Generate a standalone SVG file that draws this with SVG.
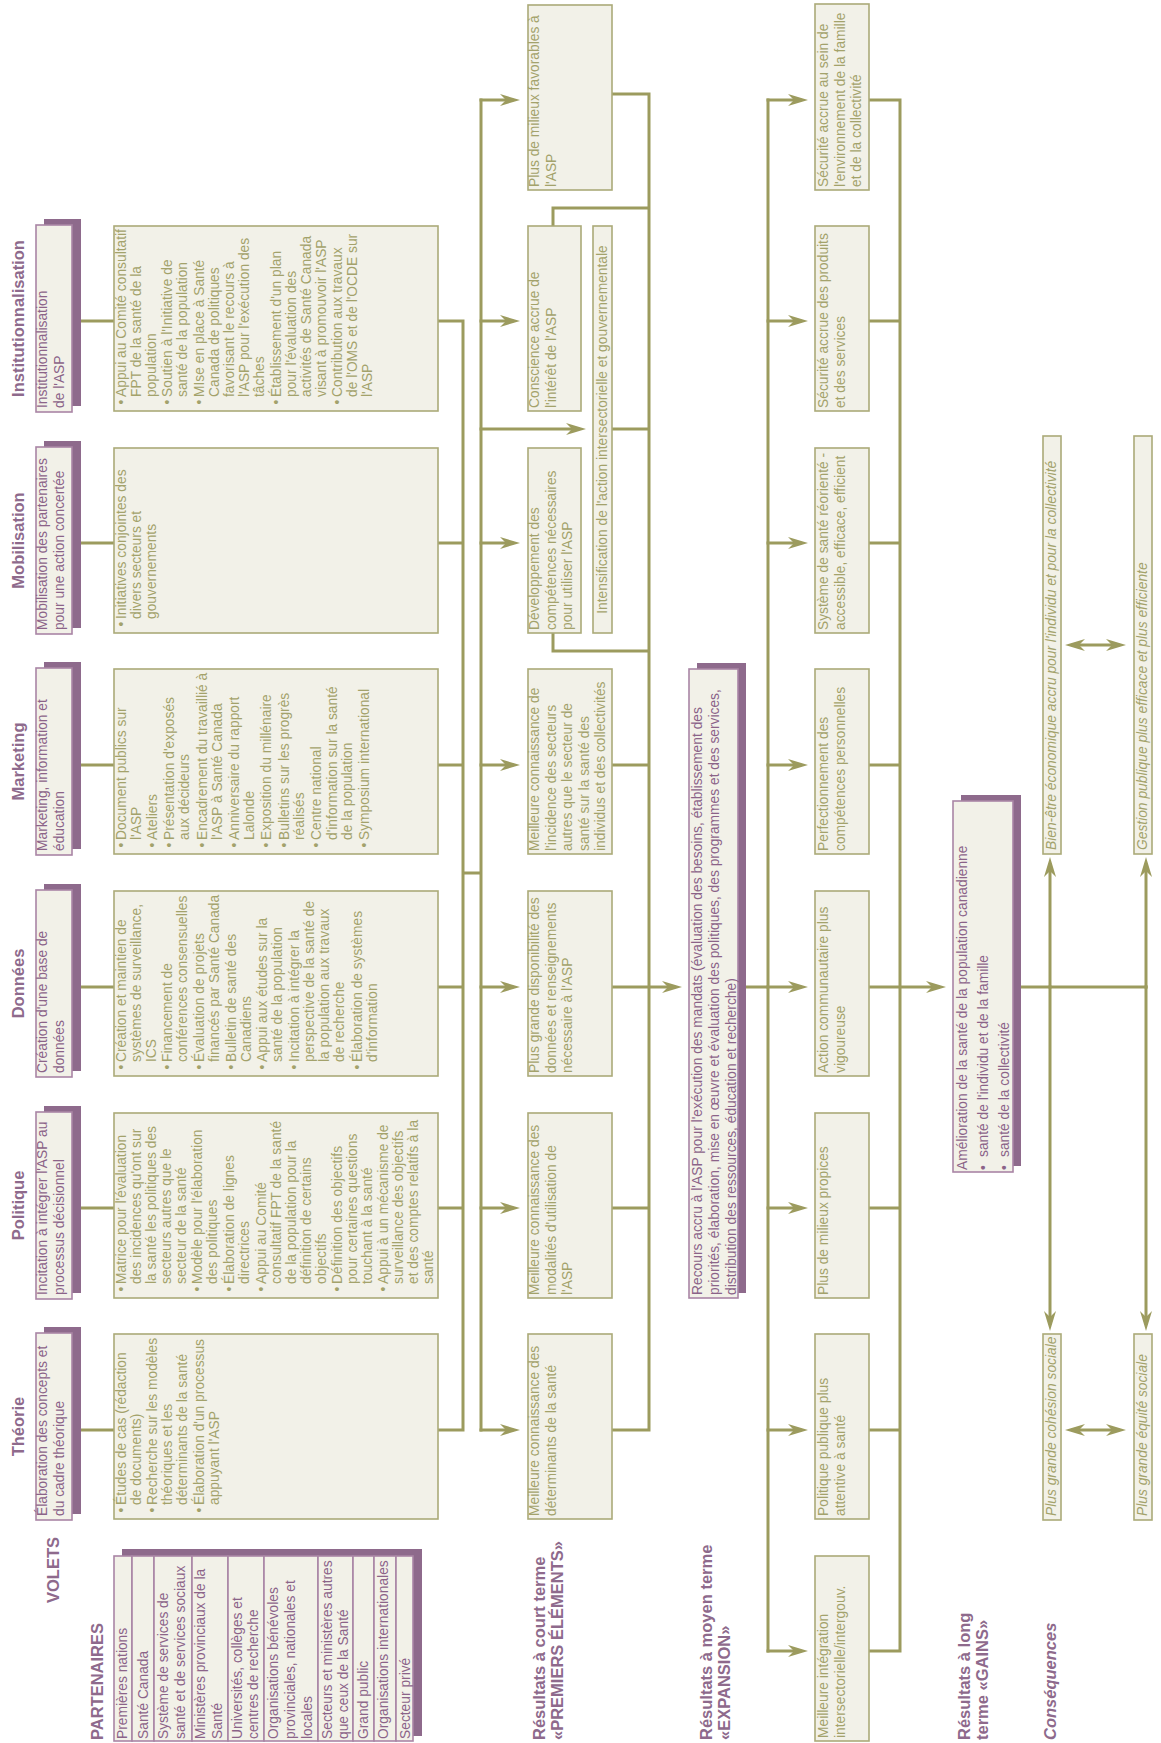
<svg xmlns="http://www.w3.org/2000/svg" width="1161" height="1743" viewBox="0 0 1161 1743">
<style>
text{font-family:"Liberation Sans",Arial,sans-serif;font-size:13.8px}
.ot{fill:#A3A26B}
.pt{fill:#8B6388}
.ttl{fill:#8E6A8C;font-weight:bold;font-size:16.5px}
.it{font-style:italic}
.ob{fill:#F2F1E8;stroke:#ABAA78;stroke-width:1.6}
.pb{fill:#F2F1E8;stroke:#A985A5;stroke-width:1.6}
.sh{fill:#8E6A8C}
.ln{fill:none;stroke:#9C9B5E;stroke-width:3;stroke-linecap:square}
.ar{marker-end:url(#ah)}
.da{marker-end:url(#ah);marker-start:url(#ah)}
</style>
<defs>
<marker id="ah" viewBox="0 0 20 12" refX="12" refY="6" markerWidth="20" markerHeight="12" markerUnits="userSpaceOnUse" orient="auto-start-reverse">
<path d="M0,0 L20,6 L0,12 L6,6 Z" fill="#9C9B5E"/>
</marker>
</defs>
<rect width="1161" height="1743" fill="#FFFFFF"/>

<g id="connectors">
<path class="ln" d="M72,321 H114 M72,543 H114 M72,765 H114 M72,987 H114 M72,1208 H114 M72,1430 H114"/>
<path class="ln" d="M438,321 H463 M438,543 H463 M438,765 H463 M438,987 H463 M438,1208 H463 M438,1430 H463 M463,321 V1430 M463,873 H481 M481,100 V1430"/>
<path class="ln ar" d="M481,100 H512"/>
<path class="ln ar" d="M481,321 H512"/>
<path class="ln ar" d="M481,429 H578"/>
<path class="ln ar" d="M481,543 H512"/>
<path class="ln ar" d="M481,765 H512"/>
<path class="ln ar" d="M481,987 H512"/>
<path class="ln ar" d="M481,1208 H512"/>
<path class="ln ar" d="M481,1430 H512"/>
<path class="ln" d="M612,94 H649 M553,226 V208 H649 M612,429 H649 M553,633 V651 H649 M612,765 H649 M612,1208 H649 M612,1430 H649 M649,94 V1430"/>
<path class="ln ar" d="M612,987 H674"/>
<path class="ln" d="M746,987 H768 M768,100 V1651"/>
<path class="ln ar" d="M768,100 H800"/>
<path class="ln ar" d="M768,321 H800"/>
<path class="ln ar" d="M768,543 H800"/>
<path class="ln ar" d="M768,765 H800"/>
<path class="ln ar" d="M768,987 H800"/>
<path class="ln ar" d="M768,1208 H800"/>
<path class="ln ar" d="M768,1430 H800"/>
<path class="ln ar" d="M768,1651 H800"/>
<path class="ln" d="M869,100 H900 M869,321 H900 M869,543 H900 M869,765 H900 M869,1208 H900 M869,1430 H900 M869,1651 H900 M900,100 V1651"/>
<path class="ln ar" d="M869,987 H938"/>
<path class="ln" d="M1021,987 H1146"/>
<path class="ln ar" d="M1050,987 V865"/>
<path class="ln ar" d="M1050,987 V1323"/>
<path class="ln ar" d="M1146,987 V865"/>
<path class="ln ar" d="M1146,987 V1323"/>
<path class="ln da" d="M1073,645 H1118"/>
<path class="ln da" d="M1073,1430 H1118"/>
</g>

<g id="headers">
<text class="ttl" transform="translate(0,1740) rotate(-90)"><tspan x="0" y="103">PARTENAIRES</tspan></text>
<text class="ttl" transform="translate(0,1603) rotate(-90)"><tspan x="0" y="59">VOLETS</tspan></text>
<text class="ttl" transform="translate(0,1740) rotate(-90)"><tspan x="0" y="545">Résultats à court terme</tspan><tspan x="0" y="563">«PREMIERS ÉLÉMENTS»</tspan></text>
<text class="ttl" transform="translate(0,1740) rotate(-90)"><tspan x="0" y="712">Résultats à moyen terme</tspan><tspan x="0" y="730">«EXPANSION»</tspan></text>
<text class="ttl" transform="translate(0,1740) rotate(-90)"><tspan x="0" y="970">Résultats à long</tspan><tspan x="0" y="988">terme «GAINS»</tspan></text>
<text class="ttl it" transform="translate(0,1740) rotate(-90)"><tspan x="0" y="1056">Conséquences</tspan></text>
</g>

<g id="partenaires">
<rect class="sh" x="122" y="1549" width="300" height="187"/>
<rect class="pb" x="114" y="1556" width="18" height="185"/>
<rect class="pb" x="132" y="1556" width="22" height="185"/>
<rect class="pb" x="154" y="1556" width="38" height="185"/>
<rect class="pb" x="192" y="1556" width="36" height="185"/>
<rect class="pb" x="228" y="1556" width="36" height="185"/>
<rect class="pb" x="264" y="1556" width="54" height="185"/>
<rect class="pb" x="318" y="1556" width="35" height="185"/>
<rect class="pb" x="353" y="1556" width="21" height="185"/>
<rect class="pb" x="374" y="1556" width="22" height="185"/>
<rect class="pb" x="396" y="1556" width="17" height="185"/>
<text class="pt" transform="translate(0,1739) rotate(-90)"><tspan x="0" y="127">Premières nations</tspan><tspan x="0" y="148">Santé Canada</tspan><tspan x="0" y="168">Système de services de</tspan><tspan x="0" y="185">santé et de services sociaux</tspan><tspan x="0" y="205">Ministères provinciaux de la</tspan><tspan x="0" y="222">Santé</tspan><tspan x="0" y="242">Universités, collèges et</tspan><tspan x="0" y="258">centres de recherche</tspan><tspan x="0" y="278">Organisations bénévoles</tspan><tspan x="0" y="295">provinciales, nationales et</tspan><tspan x="0" y="312">locales</tspan><tspan x="0" y="332">Secteurs et ministères autres</tspan><tspan x="0" y="348">que ceux de la Santé</tspan><tspan x="0" y="368">Grand public</tspan><tspan x="0" y="388">Organisations internationales</tspan><tspan x="0" y="410">Secteur privé</tspan></text>
</g>

<g id="volet-institutionnalisation">
<text class="ttl" text-anchor="middle" transform="translate(0,318.5) rotate(-90)"><tspan x="0" y="24">Institutionnalisation</tspan></text>
<rect class="sh" x="44" y="219" width="37" height="187"/>
<rect class="pb" x="36" y="225" width="36" height="187"/>
<text class="pt" transform="translate(0,408) rotate(-90)"><tspan x="0" y="47">Institutionnalisation</tspan><tspan x="0" y="64">de l'ASP</tspan></text>
<rect class="ob" x="114" y="226" width="324" height="185"/>
<text class="ot" transform="translate(0,404.5) rotate(-90)"><tspan x="0" y="126">•</tspan><tspan x="7.5" y="126">Appui au Comité consultatif</tspan><tspan x="7.5" y="141">FPT de la santé de la</tspan><tspan x="7.5" y="156">population</tspan><tspan x="0" y="172">•</tspan><tspan x="7.5" y="172">Soutien à l'Initiative de</tspan><tspan x="7.5" y="187">santé de la population</tspan><tspan x="0" y="204">•</tspan><tspan x="7.5" y="204">MIse en place à Santé</tspan><tspan x="7.5" y="219">Canada de politiques</tspan><tspan x="7.5" y="234">favorisant le recours à</tspan><tspan x="7.5" y="249">l'ASP pour l'exécution des</tspan><tspan x="7.5" y="264">tâches</tspan><tspan x="0" y="281">•</tspan><tspan x="7.5" y="281">Établissement d'un plan</tspan><tspan x="7.5" y="296">pour l'évaluation des</tspan><tspan x="7.5" y="311">activités de Santé Canada</tspan><tspan x="7.5" y="326">visant à promouvoir l'ASP</tspan><tspan x="0" y="342">•</tspan><tspan x="7.5" y="342">Contribution aux travaux</tspan><tspan x="7.5" y="357">de l'OMS et de l'OCDE sur</tspan><tspan x="7.5" y="372">l'ASP</tspan></text>
</g>

<g id="volet-mobilisation">
<text class="ttl" text-anchor="middle" transform="translate(0,540.5) rotate(-90)"><tspan x="0" y="24">Mobilisation</tspan></text>
<rect class="sh" x="44" y="441" width="37" height="187"/>
<rect class="pb" x="36" y="447" width="36" height="187"/>
<text class="pt" transform="translate(0,630) rotate(-90)"><tspan x="0" y="47">Mobilisation des partenaires</tspan><tspan x="0" y="64">pour une action concertée</tspan></text>
<rect class="ob" x="114" y="448" width="324" height="185"/>
<text class="ot" transform="translate(0,626.5) rotate(-90)"><tspan x="0" y="126">•</tspan><tspan x="7.5" y="126">Initiatives conjointes des</tspan><tspan x="7.5" y="141">divers secteurs et</tspan><tspan x="7.5" y="156">gouvernements</tspan></text>
</g>

<g id="volet-marketing">
<text class="ttl" text-anchor="middle" transform="translate(0,761.5) rotate(-90)"><tspan x="0" y="24">Marketing</tspan></text>
<rect class="sh" x="44" y="662" width="37" height="187"/>
<rect class="pb" x="36" y="668" width="36" height="187"/>
<text class="pt" transform="translate(0,851) rotate(-90)"><tspan x="0" y="47">Marketing, information et</tspan><tspan x="0" y="64">éducation</tspan></text>
<rect class="ob" x="114" y="669" width="324" height="185"/>
<text class="ot" transform="translate(0,847.5) rotate(-90)"><tspan x="0" y="126">•</tspan><tspan x="7.5" y="126">Document publics sur</tspan><tspan x="7.5" y="141">l'ASP</tspan><tspan x="0" y="157">•</tspan><tspan x="7.5" y="157">Ateliers</tspan><tspan x="0" y="174">•</tspan><tspan x="7.5" y="174">Présentation d'exposés</tspan><tspan x="7.5" y="189">aux décideurs</tspan><tspan x="0" y="207">•</tspan><tspan x="7.5" y="207">Encadrement du travaillié à</tspan><tspan x="7.5" y="222">l'ASP à Santé Canada</tspan><tspan x="0" y="239">•</tspan><tspan x="7.5" y="239">Anniversaire du rapport</tspan><tspan x="7.5" y="254">Lalonde</tspan><tspan x="0" y="271">•</tspan><tspan x="7.5" y="271">Exposition du millénaire</tspan><tspan x="0" y="289">•</tspan><tspan x="7.5" y="289">Bulletins sur les progrès</tspan><tspan x="7.5" y="304">réalisés</tspan><tspan x="0" y="321">•</tspan><tspan x="7.5" y="321">Centre national</tspan><tspan x="7.5" y="337">d'information sur la santé</tspan><tspan x="7.5" y="352">de la population</tspan><tspan x="0" y="369">•</tspan><tspan x="7.5" y="369">Symposium international</tspan></text>
</g>

<g id="volet-donnees">
<text class="ttl" text-anchor="middle" transform="translate(0,983.5) rotate(-90)"><tspan x="0" y="24">Données</tspan></text>
<rect class="sh" x="44" y="884" width="37" height="187"/>
<rect class="pb" x="36" y="890" width="36" height="187"/>
<text class="pt" transform="translate(0,1073) rotate(-90)"><tspan x="0" y="47">Création d'une base de</tspan><tspan x="0" y="64">données</tspan></text>
<rect class="ob" x="114" y="891" width="324" height="185"/>
<text class="ot" transform="translate(0,1069.5) rotate(-90)"><tspan x="0" y="126">•</tspan><tspan x="7.5" y="126">Création et maintien de</tspan><tspan x="7.5" y="141">systèmes de surveillance,</tspan><tspan x="7.5" y="156">ICS</tspan><tspan x="0" y="172">•</tspan><tspan x="7.5" y="172">Financement de</tspan><tspan x="7.5" y="187">conférences consensuelles</tspan><tspan x="0" y="204">•</tspan><tspan x="7.5" y="204">Évaluation de projets</tspan><tspan x="7.5" y="219">financés par Santé Canada</tspan><tspan x="0" y="236">•</tspan><tspan x="7.5" y="236">Bulletin de santé des</tspan><tspan x="7.5" y="251">Canadiens</tspan><tspan x="0" y="267">•</tspan><tspan x="7.5" y="267">Appui aux études sur la</tspan><tspan x="7.5" y="282">santé de la population</tspan><tspan x="0" y="299">•</tspan><tspan x="7.5" y="299">Incitation à intégrer la</tspan><tspan x="7.5" y="314">perspective de la santé de</tspan><tspan x="7.5" y="329">la population aux travaux</tspan><tspan x="7.5" y="344">de recherche</tspan><tspan x="0" y="362">•</tspan><tspan x="7.5" y="362">Élaboration de systèmes</tspan><tspan x="7.5" y="377">d'information</tspan></text>
</g>

<g id="volet-politique">
<text class="ttl" text-anchor="middle" transform="translate(0,1205.5) rotate(-90)"><tspan x="0" y="24">Politique</tspan></text>
<rect class="sh" x="44" y="1106" width="37" height="187"/>
<rect class="pb" x="36" y="1112" width="36" height="187"/>
<text class="pt" transform="translate(0,1295) rotate(-90)"><tspan x="0" y="47">Incitation à intégrer l'ASP au</tspan><tspan x="0" y="64">processus décisionnel</tspan></text>
<rect class="ob" x="114" y="1113" width="324" height="185"/>
<text class="ot" transform="translate(0,1291.5) rotate(-90)"><tspan x="0" y="126">•</tspan><tspan x="7.5" y="126">Matrice pour l'évaluation</tspan><tspan x="7.5" y="141">des incidences qu'ont sur</tspan><tspan x="7.5" y="156">la santé les politiques des</tspan><tspan x="7.5" y="171">secteurs autres que le</tspan><tspan x="7.5" y="186">secteur de la santé</tspan><tspan x="0" y="202">•</tspan><tspan x="7.5" y="202">Modèle pour l'élaboration</tspan><tspan x="7.5" y="217">des politiques</tspan><tspan x="0" y="234">•</tspan><tspan x="7.5" y="234">Élaboration de lignes</tspan><tspan x="7.5" y="249">directrices</tspan><tspan x="0" y="266">•</tspan><tspan x="7.5" y="266">Appui au Comité</tspan><tspan x="7.5" y="281">consultatif FPT de la santé</tspan><tspan x="7.5" y="296">de la population pour la</tspan><tspan x="7.5" y="311">définition de certains</tspan><tspan x="7.5" y="326">objectifs</tspan><tspan x="0" y="342">•</tspan><tspan x="7.5" y="342">Définition des objectifs</tspan><tspan x="7.5" y="357">pour certaines questions</tspan><tspan x="7.5" y="372">touchant à la santé</tspan><tspan x="0" y="388">•</tspan><tspan x="7.5" y="388">Appui à un mécanisme de</tspan><tspan x="7.5" y="403">surveillance des objectifs</tspan><tspan x="7.5" y="418">et des comptes relatifs à la</tspan><tspan x="7.5" y="433">santé</tspan></text>
</g>

<g id="volet-theorie">
<text class="ttl" text-anchor="middle" transform="translate(0,1426.5) rotate(-90)"><tspan x="0" y="24">Théorie</tspan></text>
<rect class="sh" x="44" y="1327" width="37" height="187"/>
<rect class="pb" x="36" y="1333" width="36" height="187"/>
<text class="pt" transform="translate(0,1516) rotate(-90)"><tspan x="0" y="47">Élaboration des concepts et</tspan><tspan x="0" y="64">du cadre théorique</tspan></text>
<rect class="ob" x="114" y="1334" width="324" height="185"/>
<text class="ot" transform="translate(0,1512.5) rotate(-90)"><tspan x="0" y="126">•</tspan><tspan x="7.5" y="126">Études de cas (rédaction</tspan><tspan x="7.5" y="141">de documents)</tspan><tspan x="0" y="157">•</tspan><tspan x="7.5" y="157">Recherche sur les modèles</tspan><tspan x="7.5" y="172">théoriques et les</tspan><tspan x="7.5" y="187">déterminants de la santé</tspan><tspan x="0" y="204">•</tspan><tspan x="7.5" y="204">Élaboration d'un processus</tspan><tspan x="7.5" y="219">appuyant l'ASP</tspan></text>
</g>

<g id="ct-milieux-favorables">
<rect class="ob" x="528" y="5" width="84" height="185"/>
<text class="ot" transform="translate(0,187) rotate(-90)"><tspan x="0" y="539">Plus de milieux favorables à</tspan><tspan x="0" y="556">l'ASP</tspan></text>
</g>
<g id="ct-conscience">
<rect class="ob" x="528" y="226" width="53" height="185"/>
<text class="ot" transform="translate(0,408) rotate(-90)"><tspan x="0" y="539">Conscience accrue de</tspan><tspan x="0" y="556">l'intérêt de l'ASP</tspan></text>
</g>
<g id="ct-intensification">
<rect class="ob" x="593" y="226" width="19" height="407"/>
<text class="ot" text-anchor="middle" transform="translate(0,429.5) rotate(-90)"><tspan x="0" y="606.5">Intensification de l'action intersectorielle et gouvernementale</tspan></text>
</g>
<g id="ct-competences">
<rect class="ob" x="528" y="448" width="53" height="185"/>
<text class="ot" transform="translate(0,630) rotate(-90)"><tspan x="0" y="539">Développement des</tspan><tspan x="0" y="556">compétences nécessaires</tspan><tspan x="0" y="572">pour utiliser l'ASP</tspan></text>
</g>
<g id="ct-incidence">
<rect class="ob" x="528" y="669" width="84" height="185"/>
<text class="ot" transform="translate(0,851) rotate(-90)"><tspan x="0" y="539">Meilleure connaissance de</tspan><tspan x="0" y="556">l'incidence des secteurs</tspan><tspan x="0" y="572">autres que le secteur de</tspan><tspan x="0" y="589">santé sur la santé des</tspan><tspan x="0" y="605">individus et des collectivités</tspan></text>
</g>
<g id="ct-donnees">
<rect class="ob" x="528" y="891" width="84" height="185"/>
<text class="ot" transform="translate(0,1073) rotate(-90)"><tspan x="0" y="539">Plus grande disponibilité des</tspan><tspan x="0" y="556">données et renseignements</tspan><tspan x="0" y="572">nécessaire à l'ASP</tspan></text>
</g>
<g id="ct-modalites">
<rect class="ob" x="528" y="1113" width="84" height="185"/>
<text class="ot" transform="translate(0,1295) rotate(-90)"><tspan x="0" y="539">Meilleure connaissance des</tspan><tspan x="0" y="556">modalités d'utilisation de</tspan><tspan x="0" y="572">l'ASP</tspan></text>
</g>
<g id="ct-determinants">
<rect class="ob" x="528" y="1334" width="84" height="185"/>
<text class="ot" transform="translate(0,1516) rotate(-90)"><tspan x="0" y="539">Meilleure connaissance des</tspan><tspan x="0" y="556">déterminants de la santé</tspan></text>
</g>

<g id="recours">
<rect class="sh" x="697" y="663" width="49" height="630"/>
<rect class="pb" x="689" y="669" width="49" height="629"/>
<text class="pt" transform="translate(0,1295) rotate(-90)"><tspan x="0" y="702">Recours accru à l'ASP pour l'exécution des mandats (évaluation des besoins, établissement des</tspan><tspan x="0" y="719">priorités, élaboration, mise en œuvre et évaluation des politiques, des programmes et des services,</tspan><tspan x="0" y="736">distribution des ressources, éducation et recherche)</tspan></text>
</g>

<g id="mt-securite-environnement">
<rect class="ob" x="815" y="4" width="54" height="186"/>
<text class="ot" transform="translate(0,187) rotate(-90)"><tspan x="0" y="828">Sécurité accrue au sein de</tspan><tspan x="0" y="845">l'environnement de la famille</tspan><tspan x="0" y="861">et de la collectivité</tspan></text>
</g>
<g id="mt-securite-produits">
<rect class="ob" x="815" y="226" width="54" height="185"/>
<text class="ot" transform="translate(0,408) rotate(-90)"><tspan x="0" y="828">Sécurité accrue des produits</tspan><tspan x="0" y="845">et des services</tspan></text>
</g>
<g id="mt-systeme-sante">
<rect class="ob" x="815" y="448" width="54" height="185"/>
<text class="ot" transform="translate(0,630) rotate(-90)"><tspan x="0" y="828">Système de santé réorienté -</tspan><tspan x="0" y="845">accessible, efficace, efficient</tspan></text>
</g>
<g id="mt-competences">
<rect class="ob" x="815" y="669" width="54" height="185"/>
<text class="ot" transform="translate(0,851) rotate(-90)"><tspan x="0" y="828">Perfectionnement des</tspan><tspan x="0" y="845">compétences personnelles</tspan></text>
</g>
<g id="mt-action">
<rect class="ob" x="815" y="891" width="54" height="185"/>
<text class="ot" transform="translate(0,1073) rotate(-90)"><tspan x="0" y="828">Action communautaire plus</tspan><tspan x="0" y="845">vigoureuse</tspan></text>
</g>
<g id="mt-milieux">
<rect class="ob" x="815" y="1113" width="54" height="185"/>
<text class="ot" transform="translate(0,1295) rotate(-90)"><tspan x="0" y="828">Plus de milieux propices</tspan></text>
</g>
<g id="mt-politique">
<rect class="ob" x="815" y="1334" width="54" height="185"/>
<text class="ot" transform="translate(0,1516) rotate(-90)"><tspan x="0" y="828">Politique publique plus</tspan><tspan x="0" y="845">attentive à santé</tspan></text>
</g>
<g id="mt-integration">
<rect class="ob" x="815" y="1556" width="54" height="185"/>
<text class="ot" transform="translate(0,1738) rotate(-90)"><tspan x="0" y="828">Meilleure intégration</tspan><tspan x="0" y="845">intersectorielle/intergouv.</tspan></text>
</g>

<g id="amelioration">
<rect class="sh" x="961" y="795" width="60" height="371"/>
<rect class="pb" x="953" y="801" width="60" height="371"/>
<text class="pt" transform="translate(0,1170) rotate(-90)"><tspan x="0" y="967">Amélioration de la santé de la population canadienne</tspan><tspan x="0" y="988">•</tspan><tspan x="13" y="988">santé de l'individu et de la famille</tspan><tspan x="0" y="1009">•</tspan><tspan x="13" y="1009">santé de la collectivité</tspan></text>
</g>

<g id="cons-bien-etre">
<rect class="ob" x="1043" y="436" width="18" height="418"/>
<text class="ot it" transform="translate(0,850) rotate(-90)"><tspan x="0" y="1056">Bien-être économique accru pour l'individu et pour la collectivité</tspan></text>
</g>
<g id="cons-gestion">
<rect class="ob" x="1134" y="436" width="18" height="418"/>
<text class="ot it" transform="translate(0,850) rotate(-90)"><tspan x="0" y="1147">Gestion publique plus efficace et plus efficiente</tspan></text>
</g>
<g id="cons-cohesion">
<rect class="ob" x="1043" y="1334" width="18" height="186"/>
<text class="ot it" transform="translate(0,1516) rotate(-90)"><tspan x="0" y="1056">Plus grande cohésion sociale</tspan></text>
</g>
<g id="cons-equite">
<rect class="ob" x="1134" y="1334" width="18" height="186"/>
<text class="ot it" transform="translate(0,1516) rotate(-90)"><tspan x="0" y="1147">Plus grande équité sociale</tspan></text>
</g>
</svg>
